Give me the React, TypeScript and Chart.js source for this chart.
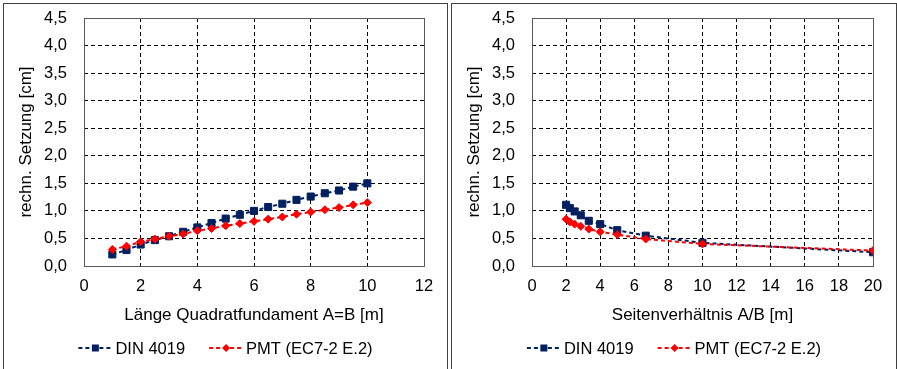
import React, { useEffect, useRef } from "react";
import { Chart, registerables } from "chart.js";

Chart.register(...registerables);

// ---------- data ----------
const seriesNames = ["DIN 4019", "PMT (EC7-2 E.2)"];
const yTitle = "rechn. Setzung [cm]";

const leftXTitle = "Länge Quadratfundament A=B [m]";
const leftX = [1, 1.5, 2, 2.5, 3, 3.5, 4, 4.5, 5, 5.5, 6, 6.5, 7, 7.5, 8, 8.5, 9, 9.5, 10];
const leftDin = [0.21, 0.29, 0.39, 0.47, 0.54, 0.62, 0.70, 0.78, 0.86, 0.93, 1.0, 1.07, 1.13, 1.2, 1.26, 1.32, 1.37, 1.44, 1.5];
const leftPmt = [0.3, 0.36, 0.44, 0.49, 0.54, 0.58, 0.64, 0.68, 0.73, 0.77, 0.81, 0.85, 0.89, 0.94, 0.98, 1.02, 1.06, 1.11, 1.15];
const leftXMax = 12;

const rightXTitle = "Seitenverhältnis A/B [m]";
const rightX = [2, 2.22, 2.5, 2.86, 3.33, 4, 5, 6.67, 10, 20];
const rightDin = [1.11, 1.05, 0.99, 0.92, 0.82, 0.76, 0.65, 0.55, 0.42, 0.25];
const rightPmt = [0.85, 0.8, 0.76, 0.72, 0.67, 0.62, 0.57, 0.49, 0.4, 0.28];
const rightXMax = 20;

const yMax = 4.5;
const yStep = 0.5;
const xStep = 2;

// ---------- styles ----------
const DIN_COLOR = "#002060";
const PMT_COLOR = "#FF0000";
const FONT = '"Liberation Sans", Arial, sans-serif';
const DASH = [4, 3];

function drawMarker(ctx: CanvasRenderingContext2D, style: string, x: number, y: number, color: string) {
  ctx.save();
  ctx.fillStyle = color;
  ctx.beginPath();
  if (style === "rect") {
    ctx.rect(x - 3.5, y - 3.5, 7, 7);
  } else {
    ctx.moveTo(x, y - 4);
    ctx.lineTo(x + 4, y);
    ctx.lineTo(x, y + 4);
    ctx.lineTo(x - 4, y);
    ctx.closePath();
  }
  ctx.fill();
  ctx.restore();
}

const framePlugin = {
  id: "frameAndLegend",
  beforeDatasetsDraw(chart: any) {
    const { ctx, chartArea } = chart;
    ctx.save();
    ctx.strokeStyle = "#595959";
    ctx.lineWidth = 1;
    ctx.setLineDash([]);
    ctx.strokeRect(
      Math.round(chartArea.left) + 0.5,
      Math.round(chartArea.top) + 0.5,
      Math.round(chartArea.right) - Math.round(chartArea.left),
      Math.round(chartArea.bottom) - Math.round(chartArea.top)
    );
    ctx.restore();
  },
  afterDraw(chart: any) {
    const ctx: CanvasRenderingContext2D = chart.ctx;
    const y = 344;
    ctx.save();
    ctx.font = `16.5px ${FONT}`;
    const ds = chart.data.datasets;
    const lineLen = 34;
    const textGap = 3;
    const itemGap = 24;
    const widths = ds.map((d: any) => ctx.measureText(d.label).width);
    const total = widths.reduce((s: number, w: number) => s + lineLen + textGap + w, 0) + itemGap * (ds.length - 1);
    let x = (chart.width - total) / 2;
    ds.forEach((d: any, i: number) => {
      ctx.strokeStyle = d.borderColor;
      ctx.lineWidth = d.borderWidth;
      ctx.setLineDash(DASH);
      ctx.beginPath();
      ctx.moveTo(x, y);
      ctx.lineTo(x + lineLen, y);
      ctx.stroke();
      ctx.setLineDash([]);
      drawMarker(ctx, d.pointStyle, x + lineLen / 2, y, d.borderColor);
      ctx.fillStyle = "#000";
      ctx.textBaseline = "middle";
      ctx.textAlign = "left";
      ctx.fillText(d.label, x + lineLen + textGap, y + 1);
      x += lineLen + textGap + widths[i] + itemGap;
    });
    ctx.restore();
  },
};

function gridColor(c: any) {
  const n = c.scale.ticks.length;
  return c.index === 0 || c.index === n - 1 ? "rgba(0,0,0,0)" : "#000";
}

function zeroPadding(scale: any) {
  scale.paddingTop = 0;
  scale.paddingBottom = 0;
  scale.paddingLeft = 0;
  scale.paddingRight = 0;
}

function makeConfig(xs: number[], din: number[], pmt: number[], xMax: number, xTitle: string): any {
  const toPts = (vals: number[]) => xs.map((x, i) => ({ x, y: vals[i] }));
  return {
    type: "line",
    data: {
      datasets: [
        {
          label: seriesNames[0],
          data: toPts(din),
          borderColor: DIN_COLOR,
          backgroundColor: DIN_COLOR,
          borderWidth: 2,
          borderDash: DASH,
          pointStyle: "rect",
          pointRadius: 5,
          pointBorderWidth: 1,
          pointBackgroundColor: DIN_COLOR,
          pointBorderColor: DIN_COLOR,
          tension: 0,
          order: 1,
        },
        {
          label: seriesNames[1],
          data: toPts(pmt),
          borderColor: PMT_COLOR,
          backgroundColor: PMT_COLOR,
          borderWidth: 2,
          borderDash: DASH,
          pointStyle: "rectRot",
          pointRadius: 4,
          pointBorderWidth: 1,
          pointBackgroundColor: PMT_COLOR,
          pointBorderColor: PMT_COLOR,
          tension: 0,
          order: 0,
        },
      ],
    },
    options: {
      responsive: false,
      animation: false,
      layout: { padding: { top: 14, right: 23, bottom: 41, left: 0 } },
      plugins: { legend: { display: false }, tooltip: { enabled: false } },
      scales: {
        x: {
          type: "linear",
          min: 0,
          max: xMax,
          ticks: { stepSize: xStep, padding: 11, color: "#000", font: { family: FONT, size: 16.5 } },
          grid: { color: gridColor, drawTicks: false, lineWidth: 1 },
          border: { display: false, dash: DASH },
          title: {
            display: true,
            text: xTitle,
            color: "#000",
            font: { family: FONT, size: 17 },
            padding: { top: 0, bottom: 2 },
          },
          afterFit(scale: any) {
            scale.height = 62;
            zeroPadding(scale);
          },
        },
        y: {
          type: "linear",
          min: 0,
          max: yMax,
          ticks: {
            stepSize: yStep,
            padding: 17,
            color: "#000",
            font: { family: FONT, size: 16.5 },
            callback: (v: any) => Number(v).toFixed(1).replace(".", ","),
          },
          grid: { color: gridColor, drawTicks: false, lineWidth: 1 },
          border: { display: false, dash: DASH },
          title: {
            display: true,
            text: yTitle,
            color: "#000",
            font: { family: FONT, size: 17 },
            padding: { top: 12, bottom: 0 },
          },
          afterFit(scale: any) {
            scale.width = 80;
            zeroPadding(scale);
          },
        },
      },
    },
    plugins: [framePlugin],
  };
}

function Panel(props: { left: number; width: number; xs: number[]; din: number[]; pmt: number[]; xMax: number; xTitle: string }) {
  const ref = useRef<HTMLCanvasElement | null>(null);
  useEffect(() => {
    if (!ref.current) return;
    const chart = new Chart(ref.current, makeConfig(props.xs, props.din, props.pmt, props.xMax, props.xTitle));
    return () => chart.destroy();
  }, []);
  const innerW = props.width - 2;
  return (
    <div
      style={{
        position: "absolute",
        left: props.left,
        top: 3,
        width: innerW,
        height: 380,
        borderTop: "1px solid #404040",
        borderLeft: "1px solid #404040",
        borderRight: "1px solid #404040",
        background: "#fff",
      }}
    >
      <canvas ref={ref} width={innerW} height={365} style={{ display: "block", width: innerW, height: 365 }} />
    </div>
  );
}

export default function App() {
  useEffect(() => {
    document.body.style.margin = "0";
  }, []);
  return (
    <div style={{ position: "absolute", left: 0, top: 0, width: 897, height: 369, overflow: "hidden", background: "#fff" }}>
      <Panel left={3} width={445} xs={leftX} din={leftDin} pmt={leftPmt} xMax={leftXMax} xTitle={leftXTitle} />
      <Panel left={451} width={446} xs={rightX} din={rightDin} pmt={rightPmt} xMax={rightXMax} xTitle={rightXTitle} />
    </div>
  );
}
